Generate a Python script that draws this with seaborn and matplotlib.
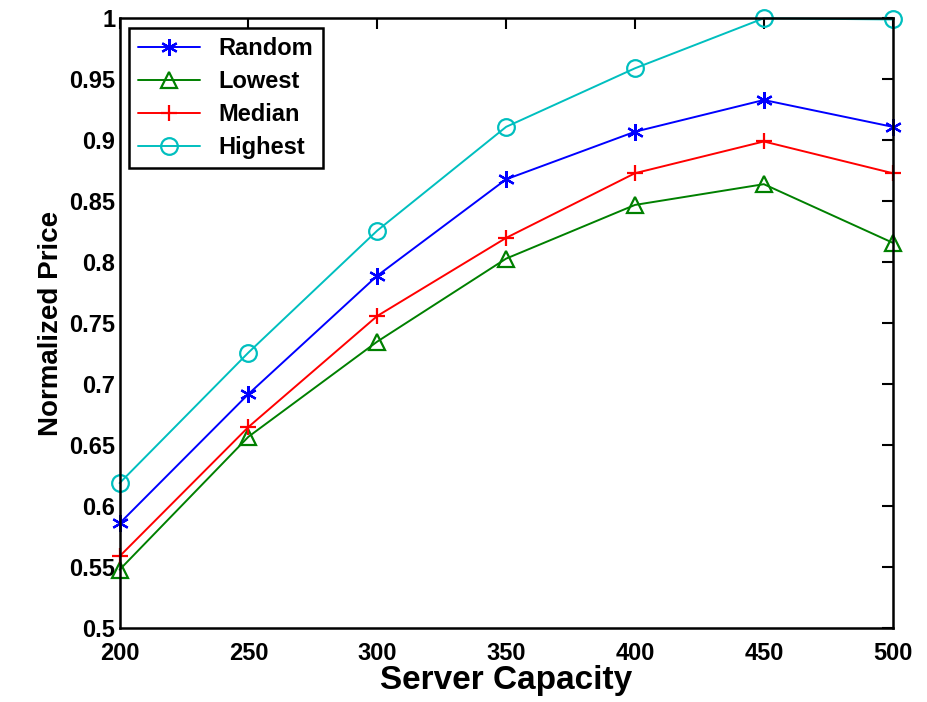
import seaborn as sns
import pandas as pd
import matplotlib
matplotlib.use('Agg')
import matplotlib.pyplot as plt

capacity = [200, 250, 300, 350, 400, 450, 500]
random_price = [0.586, 0.692, 0.789, 0.868, 0.907, 0.933, 0.911]
lowest_price = [0.548, 0.657, 0.735, 0.803, 0.847, 0.864, 0.816]
median_price = [0.559, 0.665, 0.756, 0.820, 0.873, 0.899, 0.873]
highest_price = [0.619, 0.726, 0.826, 0.911, 0.959, 1.000, 0.999]
series = ['Random', 'Lowest', 'Median', 'Highest']

sns.set_style('white')
plt.rcParams['font.family'] = ['Liberation Sans', 'DejaVu Sans']
plt.rcParams['font.weight'] = 'bold'
plt.rcParams['text.color'] = 'black'
plt.rcParams['axes.labelcolor'] = 'black'
plt.rcParams['xtick.color'] = 'black'
plt.rcParams['ytick.color'] = 'black'

df = pd.DataFrame({
    'Server Capacity': capacity * 4,
    'Normalized Price': random_price + lowest_price + median_price + highest_price,
    'Method': [s for s in series for _ in capacity],
})

palette = {'Random': '#0000ff', 'Lowest': '#008000', 'Median': '#ff0000', 'Highest': '#00bfbf'}
markers = {'Random': (6, 2, 0), 'Lowest': '^', 'Median': '+', 'Highest': 'o'}

fig = plt.figure(figsize=(9.27, 7.02), dpi=100)
ax = fig.add_axes([0.129, 0.105, 0.834, 0.869])

for name in series:
    sns.lineplot(
        data=df[df['Method'] == name],
        x='Server Capacity',
        y='Normalized Price',
        color=palette[name],
        marker=markers[name],
        markersize=12,
        markerfacecolor='none',
        markeredgecolor=palette[name],
        markeredgewidth=1.6,
        linewidth=1.4,
        label=name,
        ax=ax,
    )

ax.set_xlim(200, 500)
ax.set_ylim(0.5, 1.0)
ax.set_xticks(capacity)
ax.set_yticks([0.5, 0.55, 0.6, 0.65, 0.7, 0.75, 0.8, 0.85, 0.9, 0.95, 1.0])
ax.set_yticklabels(['0.5', '0.55', '0.6', '0.65', '0.7', '0.75', '0.8', '0.85', '0.9', '0.95', '1'])
ax.tick_params(direction='in', length=8, width=1.5, top=True, right=True,
               labelsize=17, color='black', labelcolor='black')
ax.tick_params(axis='x', pad=10)
ax.tick_params(axis='y', pad=3)
for spine in ax.spines.values():
    spine.set_visible(True)
    spine.set_color('black')
    spine.set_linewidth(1.8)
ax.set_xlabel('Server Capacity', fontsize=24, fontweight='bold', labelpad=0)
ax.set_ylabel('Normalized Price', fontsize=20, fontweight='bold', labelpad=4)

leg = ax.legend(loc='upper left', fontsize=17, frameon=True, fancybox=False,
                edgecolor='black', borderaxespad=0.4, handlelength=2.6,
                labelspacing=0.42)
leg.get_frame().set_linewidth(1.8)
leg.get_frame().set_alpha(1)

for line in ax.lines:
    line.set_clip_on(False)

fig.savefig('out.png', dpi=100)
